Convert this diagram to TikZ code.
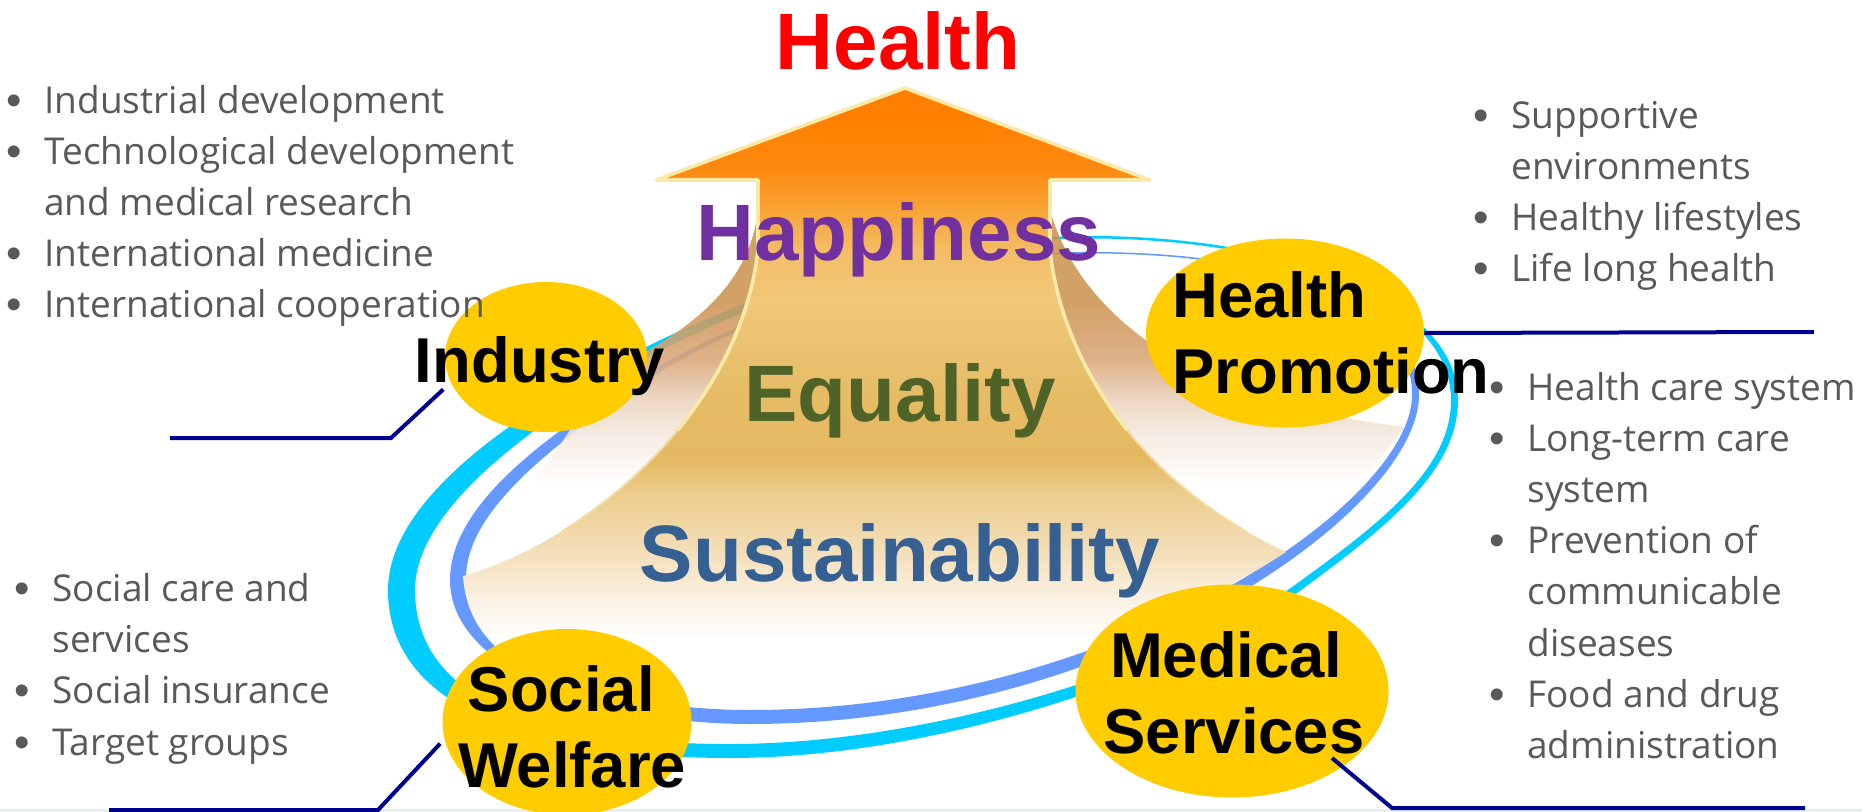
\documentclass[tikz,border=0pt]{standalone}
\usepackage{fontspec}
\setmainfont{Liberation Sans}
\newfontfamily\listfont{Open Sans}
\usetikzlibrary{shapes.geometric}
\definecolor{ringcyan}{HTML}{00CCFF}
\definecolor{ringblue}{HTML}{6699FF}
\definecolor{navyline}{HTML}{000090}
\definecolor{goldfill}{HTML}{FFCC00}
\definecolor{graytext}{HTML}{595959}
\definecolor{edgepale}{HTML}{FBE9A8}
\definecolor{edgefade}{HTML}{F2DDA8}
\definecolor{happy}{HTML}{7030A0}
\definecolor{equal}{HTML}{4F6228}
\definecolor{sustain}{HTML}{366092}
\definecolor{stripcol}{HTML}{E6F0EE}
\definecolor{a1}{HTML}{FF8000}
\definecolor{a2}{HTML}{FD8A10}
\definecolor{a3}{HTML}{F8A436}
\definecolor{a4}{HTML}{F3BD66}
\definecolor{a5}{HTML}{F0C878}
\definecolor{a6}{HTML}{EAC270}
\definecolor{a7}{HTML}{E5BB64}
\definecolor{a8}{HTML}{E4B962}
\definecolor{a9}{HTML}{EBCB88}
\definecolor{b1}{HTML}{EFD4A0}
\definecolor{b2}{HTML}{F6E4C4}
\definecolor{b3}{HTML}{FBF2E4}
\definecolor{w1}{HTML}{CC9450}
\definecolor{w2}{HTML}{DAA87A}
\definecolor{w3}{HTML}{EBD5C0}
\definecolor{w4}{HTML}{F6EDE4}
\pgfdeclareverticalshading{arrowshade}{100bp}{
 color(0bp)=(white); color(25bp)=(white); color(27.6bp)=(white); color(31bp)=(b3); color(33.9bp)=(b2);
 color(37.9bp)=(b1); color(40.5bp)=(a9); color(43bp)=(a8); color(48.2bp)=(a7); color(52.5bp)=(a6);
 color(56.8bp)=(a5); color(61bp)=(a4); color(64.5bp)=(a3); color(68bp)=(a2); color(72.25bp)=(a1);
 color(75bp)=(a1); color(100bp)=(a1)}
\pgfdeclareverticalshading{wingshade}{100bp}{
 color(0bp)=(white); color(25bp)=(white); color(28bp)=(white); color(35bp)=(w4); color(42bp)=(w3);
 color(49bp)=(w2); color(59.5bp)=(w1); color(75bp)=(w1); color(100bp)=(w1)}
\tikzset{
 x=0.5pt,y=-0.5pt,
 goldnode/.style={ellipse,fill=goldfill,inner sep=0pt},
 bigword/.style={font=\fontsize{40}{47}\bfseries\selectfont,inner sep=0pt},
 label/.style={font=\fontsize{31.7}{38.3}\bfseries\selectfont,inner sep=0pt,text=black},
 listtext/.style={font=\listfont\fontsize{18.5}{25.6}\selectfont,text=graytext,align=left,inner sep=0pt,anchor=north west},
 leader/.style={draw=navyline,line width=2pt,line join=miter},
}
\newcommand{\itm}{\makebox[19pt][l]{\raisebox{-1pt}{\rmfamily\fontsize{22}{25}\selectfont •}}}
\newcommand{\nob}{\hspace*{19pt}}
\begin{document}
\begin{tikzpicture}
\useasboundingbox (0,0) rectangle (1862,812);
\fill[white] (0,0) rectangle (1862,812);
\fill[stripcol] (0,809) rectangle (1862,812);
% rings
\fill[ringcyan,even odd rule]
 (1090,236) .. controls (1290,236) and (1458,300) .. (1458,400)
 .. controls (1458,470) and (1390,525) .. (1297,593)
 .. controls (1200,664) and (950,758) .. (730,758)
 .. controls (560,758) and (388,720) .. (388,590)
 .. controls (388,500) and (516,411) .. (646,347)
 .. controls (780,281) and (930,236) .. (1090,236) -- cycle
 (1090,238.5) .. controls (1285,238.5) and (1451,300) .. (1451,400)
 .. controls (1451,468) and (1384,521) .. (1292,587)
 .. controls (1195,655) and (950,744) .. (730,744)
 .. controls (575,744) and (415,715) .. (415,590)
 .. controls (415,510) and (530,425) .. (650,356)
 .. controls (782,288) and (930,238.5) .. (1090,238.5) -- cycle;
\fill[ringblue,even odd rule]
 (1090,252) .. controls (1280,252) and (1419,300) .. (1419,395)
 .. controls (1419,510) and (1120,724) .. (750,724)
 .. controls (600,724) and (450,670) .. (450,580)
 .. controls (450,500) and (560,425) .. (666,362)
 .. controls (790,295) and (930,252) .. (1090,252) -- cycle
 (1090,253.5) .. controls (1275,253.5) and (1412,300) .. (1412,395)
 .. controls (1412,505) and (1110,710) .. (750,710)
 .. controls (610,710) and (466,665) .. (466,578)
 .. controls (466,505) and (570,432) .. (668,367)
 .. controls (790,298) and (930,253.5) .. (1090,253.5) -- cycle;
% back wings
\path[shading=wingshade,opacity=.88]
 (758,210) -- (1050,210) .. controls (1075,300) and (1170,400) .. (1405,427)
 -- (1374,466) -- (1338,500) -- (520,500) -- (560,445)
 .. controls (590,400) and (610,375) .. (646,352)
 .. controls (700,320) and (750,280) .. (758,210) -- cycle;
% arrow body
\path[shading=arrowshade]
 (905,88) -- (1150,180) -- (1050,180) -- (1050,250)
 .. controls (1060,350) and (1130,480) .. (1286,552)
 .. controls (1210,602) and (1110,640) .. (1000,670)
 -- (530,670) .. controls (490,650) and (466,620) .. (463,576)
 .. controls (590,540) and (740,410) .. (758,250) -- (758,180) -- (656,180) -- cycle;
\begin{scope}
\clip (400,60) rectangle (1200,430);
\draw[edgepale,line width=1.8pt,line join=round]
 (1286,552) .. controls (1130,480) and (1060,350) .. (1050,250) -- (1050,180) -- (1150,180) -- (905,88) -- (656,180) -- (758,180) -- (758,250)
 .. controls (740,410) and (590,540) .. (463,576);
\end{scope}
\begin{scope}
\clip (400,430) rectangle (1300,530);
\draw[edgefade,line width=1pt]
 (1286,552) .. controls (1130,480) and (1060,350) .. (1050,250)
 (758,250) .. controls (740,410) and (590,540) .. (463,576);
\end{scope}
% ellipses
\node[goldnode,minimum width=101pt,minimum height=75pt] (industry) at (546,357) {};
\node[goldnode,minimum width=139pt,minimum height=94.5pt] (promotion) at (1285,333) {};
\node[goldnode,minimum width=124.5pt,minimum height=93pt] (welfare) at (567,722) {};
\node[goldnode,minimum width=156.5pt,minimum height=106.5pt] (medical) at (1232,691) {};
% connectors
\coordinate (indKnee) at (391,438);
\coordinate (indFree) at (170,438);
\coordinate (promFree) at (1814,332);
\coordinate (welKnee) at (378,810);
\coordinate (welFree) at (109,810);
\coordinate (medEnd) at (1332,758);
\coordinate (medKnee) at (1392,808);
\coordinate (medFree) at (1805,808);
\draw[leader,shorten <=5pt] (industry.195) -- (indKnee) -- (indFree);
\draw[leader] (promotion.east) -- (promFree);
\draw[leader,shorten <=3pt] (welfare.188) -- (welKnee) -- (welFree);
\draw[leader] (medEnd) -- (medKnee) -- (medFree);
% big words
\node[bigword,text=red,anchor=base] (tHealth) at (898,70) {Health};
\node[bigword,text=happy,anchor=base] (tHappy) at (899,261) {Happiness};
\node[bigword,text=equal,anchor=base] (tEqual) at (900,422) {Equality};
\node[bigword,text=sustain,anchor=base] (tSustain) at (900,581) {Sustainability};
% labels
\node[label,anchor=base] (lIndustry) at (540,383) {Industry};
\node[label,align=left] (lPromotion) at (1331,333) {Health\\Promotion};
\node[label,align=center] (lWelfare) at (572,727) {Social\hspace*{10.7pt}\\Welfare};
\node[label,align=center] (lMedical) at (1234,693) {Medical\hspace*{7.7pt}\\Services};
% lists
\node[listtext] (listA) at (6,84.5) {\itm Industrial development\\\itm Technological development\\\nob and medical research\\\itm International medicine\\\itm International cooperation};
\node[listtext] (listB) at (1473,100.5) {\itm Supportive\\\nob environments\\\itm Healthy lifestyles\\\itm Life long health};
\node[listtext] (listC) at (1489,371.5) {\itm Health care system\\\itm Long-term care\\\nob system\\\itm Prevention of\\\nob communicable\\\nob diseases\\\itm Food and drug\\\nob administration};
\node[listtext] (listD) at (14,573) {\itm Social care and\\\nob services\\\itm Social insurance\\\itm Target groups};
\end{tikzpicture}
\end{document}
